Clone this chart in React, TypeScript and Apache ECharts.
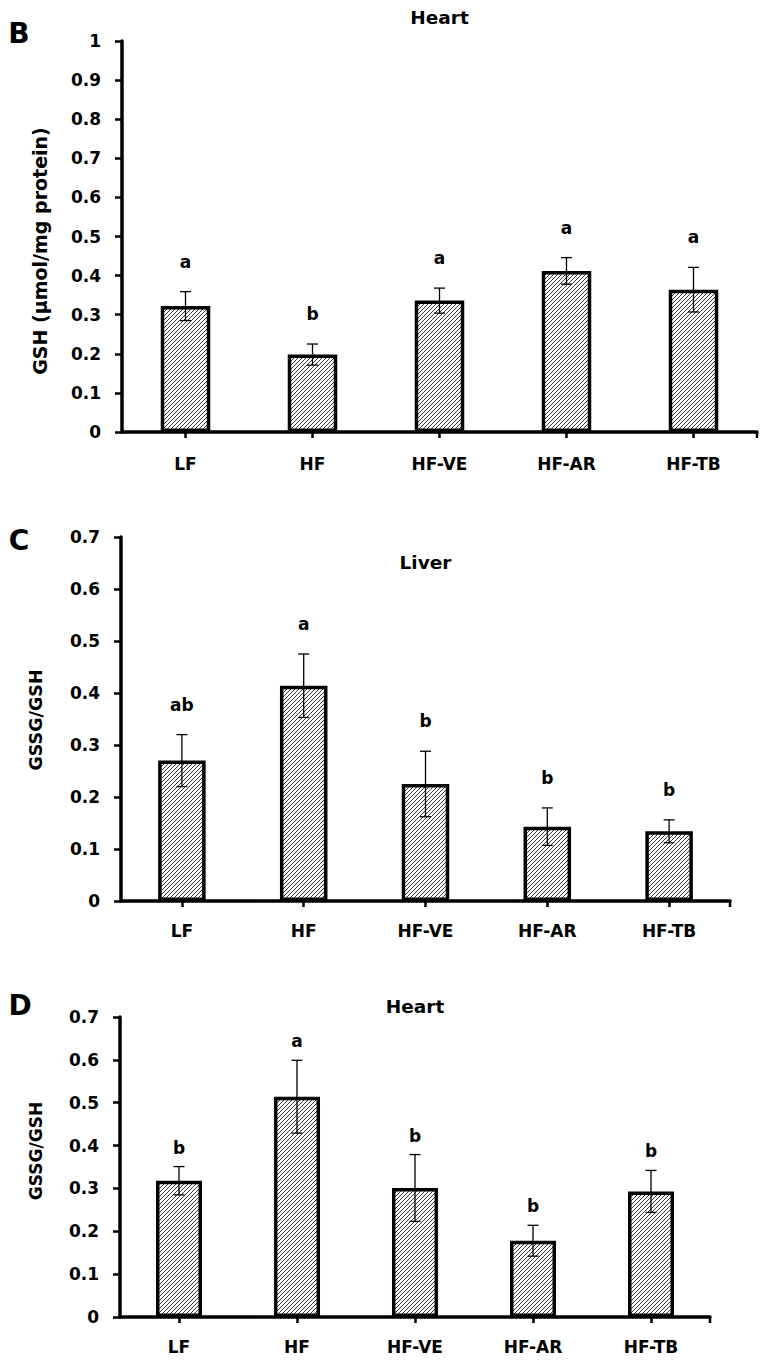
import React, { useEffect, useRef } from "react";
import * as echarts from "echarts";

// ---------- data ----------
const categories = ["LF", "HF", "HF-VE", "HF-AR", "HF-TB"];

// Panel B: Heart GSH (µmol/mg protein)
const heartGshMean = [0.322, 0.198, 0.336, 0.412, 0.364];
const heartGshErr = [0.037, 0.027, 0.032, 0.034, 0.057];
const heartGshLetters = ["a", "b", "a", "a", "a"];

// Panel C: Liver GSSG/GSH
const liverRatioMean = [0.27, 0.414, 0.225, 0.143, 0.134];
const liverRatioErr = [0.05, 0.061, 0.063, 0.036, 0.022];
const liverRatioLetters = ["ab", "a", "b", "b", "b"];

// Panel D: Heart GSSG/GSH
const heartRatioMean = [0.318, 0.514, 0.301, 0.178, 0.293];
const heartRatioErr = [0.033, 0.085, 0.078, 0.036, 0.049];
const heartRatioLetters = ["b", "a", "b", "b", "b"];

const panelLetters = ["B", "C", "D"];
const panelTitles = ["Heart", "Liver", "Heart"];
const yAxisNames = ["GSH (µmol/mg protein)", "GSSG/GSH", "GSSG/GSH"];
const yAxisMax = [1, 0.7, 0.7];
const yAxisInterval = [0.1, 0.1, 0.1];

// ---------- layout ----------
const FONT = "'DejaVu Sans', 'Noto Sans', sans-serif";
const grids = [
  { left: 122, top: 41, width: 635, height: 391 },
  { left: 121, top: 537, width: 609, height: 364 },
  { left: 120, top: 1017, width: 590, height: 300 },
];
const letterOffsets = [30, 30, 19];
const panelLetterPos = [
  [19, 33],
  [19, 540],
  [20, 1005],
];
const titleY = [17, 562, 1006];
const yNamePos = [
  [40, 251],
  [36, 720],
  [36, 1151],
];
const yNameSize = [19, 17.5, 17];
const xLabelMargin = [23, 21, 21];

function makeHatch(): HTMLCanvasElement {
  const s = 4;
  const c = document.createElement("canvas");
  c.width = s;
  c.height = s;
  const ctx = c.getContext("2d")!;
  ctx.fillStyle = "#ffffff";
  ctx.fillRect(0, 0, s, s);
  ctx.strokeStyle = "#3a3a3a";
  ctx.lineWidth = 1;
  ctx.beginPath();
  ctx.moveTo(0, s);
  ctx.lineTo(s, 0);
  ctx.moveTo(-1, 1);
  ctx.lineTo(1, -1);
  ctx.moveTo(s - 1, s + 1);
  ctx.lineTo(s + 1, s - 1);
  ctx.stroke();
  return c;
}

export default function App() {
  const ref = useRef<HTMLDivElement>(null);

  useEffect(() => {
    document.body.style.margin = "0";
    const chart = echarts.init(ref.current!, null, { renderer: "svg" });
    const hatch = makeHatch();
    const pattern: any = {
      image: hatch,
      repeat: "repeat",
      imageWidth: 4,
      imageHeight: 4,
    };

    const panels = [
      { mean: heartGshMean, err: heartGshErr, letters: heartGshLetters },
      { mean: liverRatioMean, err: liverRatioErr, letters: liverRatioLetters },
      { mean: heartRatioMean, err: heartRatioErr, letters: heartRatioLetters },
    ];

    const xAxis = grids.map((_, i) => ({
      type: "category",
      gridIndex: i,
      data: categories,
      boundaryGap: true,
      axisLine: { show: true, lineStyle: { color: "#000", width: 3.5 } },
      axisTick: {
        show: true,
        alignWithLabel: true,
        length: 6,
        lineStyle: { color: "#000", width: 2.5 },
      },
      axisLabel: {
        color: "#000",
        fontWeight: "bold",
        fontSize: 17,
        fontFamily: FONT,
        margin: xLabelMargin[i],
      },
      splitLine: { show: false },
    }));

    const yAxis = grids.map((_, i) => ({
      type: "value",
      gridIndex: i,
      min: 0,
      max: yAxisMax[i],
      interval: yAxisInterval[i],
      axisLine: { show: true, lineStyle: { color: "#000", width: 3.5 } },
      axisTick: {
        show: true,
        length: 7,
        lineStyle: { color: "#000", width: 2.5 },
      },
      axisLabel: {
        color: "#000",
        fontWeight: "bold",
        fontSize: 17,
        fontFamily: FONT,
        margin: 21,
      },
      splitLine: { show: false },
    }));

    const series: any[] = [];
    panels.forEach((p, i) => {
      series.push({
        type: "bar",
        xAxisIndex: i,
        yAxisIndex: i,
        data: p.mean,
        barWidth: "39%",
        itemStyle: {
          color: pattern,
          borderColor: "#000",
          borderWidth: 3.5,
        },
        silent: true,
      });
      series.push({
        type: "custom",
        xAxisIndex: i,
        yAxisIndex: i,
        z: 10,
        silent: true,
        data: p.mean.map((m, k) => [k, m - p.err[k], m + p.err[k]]),
        encode: { x: 0, y: [1, 2] },
        renderItem: (params: any, api: any) => {
          const idx = api.value(0);
          const lo = api.coord([idx, api.value(1)]);
          const hi = api.coord([idx, api.value(2)]);
          const x = hi[0];
          const hw = 5.5;
          const st = { stroke: "#000", lineWidth: 1.3 };
          return {
            type: "group",
            children: [
              { type: "line", shape: { x1: x, y1: lo[1], x2: x, y2: hi[1] }, style: st },
              { type: "line", shape: { x1: x - hw, y1: hi[1], x2: x + hw, y2: hi[1] }, style: st },
              { type: "line", shape: { x1: x - hw, y1: lo[1], x2: x + hw, y2: lo[1] }, style: st },
              {
                type: "text",
                x: x,
                y: hi[1] - letterOffsets[i],
                style: {
                  text: p.letters[params.dataIndex],
                  align: "center",
                  verticalAlign: "middle",
                  fill: "#000",
                  fontSize: 17,
                  fontWeight: "bold",
                  fontFamily: FONT,
                },
              },
            ],
          };
        },
      });
    });

    const graphic: any[] = [];
    grids.forEach((g, i) => {
      // small end tick at the right end of the category axis
      graphic.push({
        type: "line",
        shape: {
          x1: g.left + g.width,
          y1: g.top + g.height,
          x2: g.left + g.width,
          y2: g.top + g.height + 6,
        },
        style: { stroke: "#000", lineWidth: 2.5 },
      });
      graphic.push({
        type: "text",
        x: panelLetterPos[i][0],
        y: panelLetterPos[i][1],
        style: {
          text: panelLetters[i],
          align: "center",
          verticalAlign: "middle",
          fill: "#000",
          fontSize: 28,
          fontWeight: "bold",
          fontFamily: FONT,
        },
      });
      graphic.push({
        type: "text",
        x: g.left + g.width / 2,
        y: titleY[i],
        style: {
          text: panelTitles[i],
          align: "center",
          verticalAlign: "middle",
          fill: "#000",
          fontSize: 18.5,
          fontWeight: "bold",
          fontFamily: FONT,
        },
      });
      graphic.push({
        type: "text",
        x: yNamePos[i][0],
        y: yNamePos[i][1],
        rotation: Math.PI / 2,
        style: {
          text: yAxisNames[i],
          align: "center",
          verticalAlign: "middle",
          fill: "#000",
          fontSize: yNameSize[i],
          fontWeight: "bold",
          fontFamily: FONT,
        },
      });
    });

    chart.setOption({
      animation: false,
      backgroundColor: "#fff",
      grid: grids.map((g) => ({ ...g, containLabel: false })),
      xAxis,
      yAxis,
      series,
      graphic,
    });

    return () => chart.dispose();
  }, []);

  return <div ref={ref} style={{ width: 768, height: 1368 }} />;
}
